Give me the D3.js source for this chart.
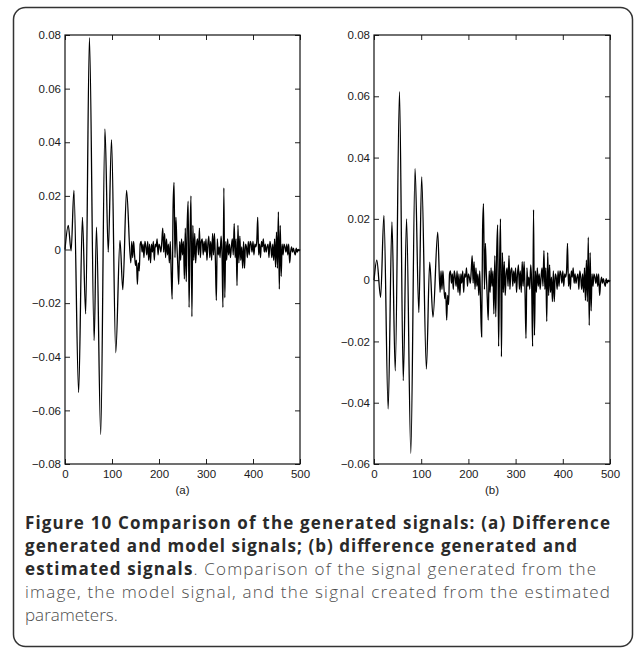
<!DOCTYPE html>
<html>
<head>
<meta charset="utf-8">
<script src="https://cdn.jsdelivr.net/npm/d3@7"></script>
<style>
  body { margin: 0; background: #fff; }
  svg { display: block; }
  .tick text { font-family: "Liberation Sans", Arial, sans-serif; font-size: 11.5px; fill: #1a1a1a; }
  .tick line { stroke: #222; }
  .caption { font-family: "Open Sans", sans-serif; font-size: 17px; }
</style>
</head>
<body>
<div id="chart"></div>
<script>
// sample axis
const xTicks = [0, 100, 200, 300, 400, 500];
const yTicksA = [-0.08, -0.06, -0.04, -0.02, 0, 0.02, 0.04, 0.06, 0.08];
const yTicksB = [-0.06, -0.04, -0.02, 0, 0.02, 0.04, 0.06, 0.08];
const panelLabels = ["(a)", "(b)"];

// oscillating start of each signal (extrema)
const oscSamplesA = [0, 7, 13, 19, 29, 37, 44, 52, 62, 67, 76, 85, 92, 99, 108, 117, 123, 131, 140];
const oscValuesA = [0, 0.009, -0.0005, 0.022, -0.0533, 0.012, -0.024, 0.079, -0.034, 0.0083,
  -0.069, 0.045, -0.001, 0.041, -0.0385, 0.0034, -0.015, 0.022, -0.005];

const oscSamplesB = [0, 6, 14, 21, 30, 38, 45, 54, 62, 69, 78, 87, 95, 101, 111, 118, 125, 135, 140];
const oscValuesB = [0, 0.0065, -0.0056, 0.0211, -0.042, 0.019, -0.0296, 0.0615, -0.0328, 0.020,
  -0.0565, 0.0364, -0.0106, 0.0337, -0.029, 0.0059, -0.0121, 0.0157, -0.004];

// noisy tail, samples 142..500 every 2 samples (same in both panels)
const tailStart = 142, tailStep = 2;
const tailValues = [
  0.003, -0.003, 0.003, -0.002, -0.006, -0.004, -0.013, -0.005, -0.008, 0.002,
  0.003, -0.001, 0.002, -0.003, 0.003, 0.001, -0.002, 0.003, -0.004, 0.002,
  -0.005, 0.002, -0.001, 0.003, -0.004, 0.002, 0.001, 0.004, -0.002, 0.002,
  0.001, -0.001, 0.003, 0.008, -0.001, 0.006, -0.003, 0.004, -0.002, 0.002,
  -0.005, 0.003, -0.009, -0.0185, 0.016, 0.025, -0.003, 0.012, 0.002, -0.006,
  -0.013, 0.003, -0.004, 0.004, -0.002, 0.003, -0.011, 0.008, -0.012, 0.009,
  0.018, -0.0216, 0.004, 0.02, -0.025, 0.009, -0.004, 0.006, -0.005, 0.002,
  0.004, -0.002, 0.008, -0.003, 0.003, 0.004, -0.002, 0.003, -0.001, 0.004,
  -0.004, 0.002, 0.005, -0.003, 0.003, -0.004, 0.006, -0.002, 0.006, -0.004,
  -0.019, 0.004, -0.002, 0.001, -0.003, 0.005, -0.001, -0.0216, 0.023, -0.018,
  0.003, -0.004, 0.004, -0.002, 0.002, -0.003, 0.001, 0.004, -0.002, 0.0096,
  -0.003, 0.004, -0.0135, 0.009, -0.005, 0.005, -0.004, 0.001, -0.007, 0.003,
  -0.007, 0.002, 0.001, -0.003, 0.003, -0.002, 0.003, 0.002, -0.001, 0.003,
  -0.002, 0.002, 0.001, 0.003, 0.012, -0.002, 0.002, -0.003, 0.003, 0.001,
  0.004, -0.001, 0.002, -0.001, 0.001, 0.002, -0.003, 0.003, 0.001, -0.003,
  0.002, -0.004, 0.004, -0.0066, 0.0065, -0.007, 0.014, -0.0148, 0.009, -0.010,
  0.002, -0.002, 0.002, 0.001, -0.001, 0.002, -0.002, 0.002, -0.005, -0.001,
  0.001, -0.001, 0.0005, -0.001, -0.002, 0.0005, -0.001, 0, -0.0005, 0
];

const captionLines = [
  [["Figure 10 Comparison of the generated signals: (a) Difference", true]],
  [["generated and model signals; (b) difference generated and", true]],
  [["estimated signals", true], [". Comparison of the signal generated from the", false]],
  [["image, the model signal, and the signal created from the estimated", false]],
  [["parameters.", false]]
];

const width = 635, height = 651;

const svg = d3.select("#chart").append("svg")
  .attr("width", width)
  .attr("height", height);

// rounded frame
svg.append("rect")
  .attr("x", 13.5).attr("y", 7.5)
  .attr("width", 619).attr("height", 639)
  .attr("rx", 12)
  .attr("fill", "none")
  .attr("stroke", "#333")
  .attr("stroke-width", 1.5);

function makeSeries(samples, values) {
  const head = samples.map((s, i) => [s, values[i]]);
  const tail = tailValues.map((v, i) => [tailStart + i * tailStep, v]);
  return head.concat(tail);
}

function drawPanel(left, right, yDomain, yTicks, series, label) {
  const top = 35, bottom = 464;
  const x = d3.scaleLinear().domain([0, 500]).range([left, right]);
  const y = d3.scaleLinear().domain(yDomain).range([bottom, top]);
  const g = svg.append("g");

  const fmt = d => d === 0 ? "0" : d3.format(".2f")(d);

  g.append("g")
    .attr("transform", `translate(${left},0)`)
    .call(d3.axisLeft(y).tickValues(yTicks).tickSize(-5).tickPadding(4).tickFormat(fmt))
    .call(a => a.select(".domain").remove());

  g.append("g")
    .attr("transform", `translate(${right},0)`)
    .call(d3.axisRight(y).tickValues(yTicks).tickSize(-5).tickFormat(""))
    .call(a => a.select(".domain").remove());

  g.append("g")
    .attr("transform", `translate(0,${bottom})`)
    .call(d3.axisBottom(x).tickValues(xTicks).tickSize(-5).tickPadding(6).tickFormat(d3.format("d")))
    .call(a => a.select(".domain").remove());

  g.append("g")
    .attr("transform", `translate(0,${top})`)
    .call(d3.axisTop(x).tickValues(xTicks).tickSize(-5).tickFormat(""))
    .call(a => a.select(".domain").remove());

  const line = d3.line()
    .x(d => x(d[0]))
    .y(d => y(d[1]))
    .curve(d3.curveMonotoneX);

  g.append("path")
    .datum(series)
    .attr("fill", "none")
    .attr("stroke", "#000")
    .attr("stroke-width", 1.3)
    .attr("d", line);

  g.append("rect")
    .attr("x", left).attr("y", top)
    .attr("width", right - left).attr("height", bottom - top)
    .attr("fill", "none")
    .attr("stroke", "#111")
    .attr("stroke-width", 1.2);

  g.append("text")
    .attr("x", (left + right) / 2)
    .attr("y", 494)
    .attr("text-anchor", "middle")
    .style("font-family", "'Liberation Sans', Arial, sans-serif")
    .style("font-size", "11.5px")
    .attr("fill", "#1a1a1a")
    .text(label);
}

drawPanel(65, 300, [-0.08, 0.08], yTicksA, makeSeries(oscSamplesA, oscValuesA), panelLabels[0]);
drawPanel(374, 610, [-0.06, 0.08], yTicksB, makeSeries(oscSamplesB, oscValuesB), panelLabels[1]);

// caption
const lineWidths = [585, 552, 571, 585, null];
captionLines.forEach((parts, i) => {
  const t = svg.append("text")
    .attr("class", "caption")
    .attr("x", 25)
    .attr("y", 529 + i * 23);
  if (lineWidths[i]) t.attr("textLength", lineWidths[i]).attr("lengthAdjust", "spacing");
  parts.forEach(([str, bold]) => {
    t.append("tspan")
      .attr("font-weight", bold ? 700 : 300)
      .attr("fill", bold ? "#2a2a2a" : "#4d4d4d")
      .text(str);
  });
});
</script>
</body>
</html>
